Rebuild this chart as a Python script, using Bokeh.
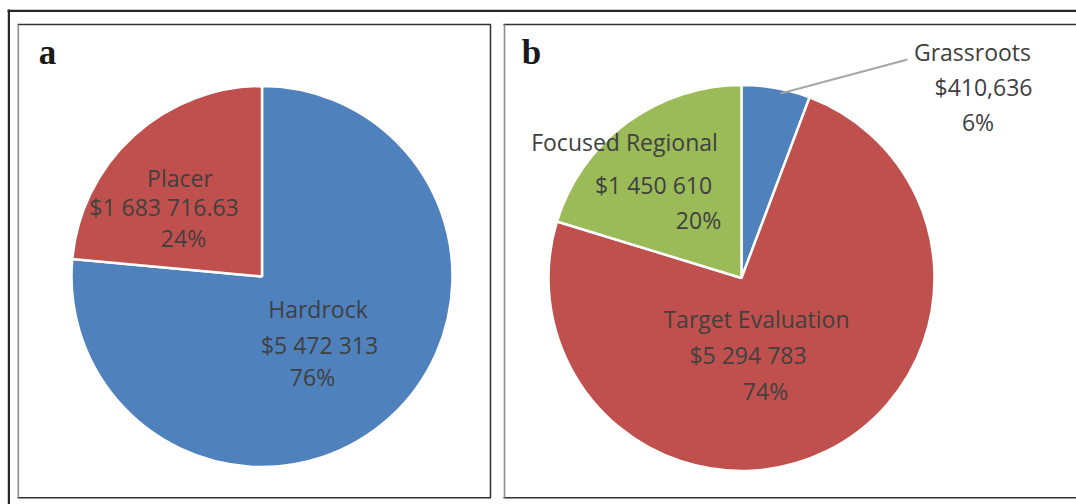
import numpy as np
from bokeh.plotting import figure
from bokeh.models import Range1d
from bokeh.core.properties import value
from bokeh.embed import file_html
from bokeh.resources import INLINE

# ---------------- data ----------------
categories_a = ["Hardrock", "Placer"]
values_a = [5472313, 1683716.63]
money_labels_a = ["$5 472 313", "$1 683 716.63"]
pct_labels_a = ["76%", "24%"]

categories_b = ["Grassroots", "Target Evaluation", "Focused Regional"]
values_b = [410636, 5294783, 1450610]
money_labels_b = ["$410,636", "$5 294 783", "$1 450 610"]
pct_labels_b = ["6%", "74%", "20%"]

colors_a = ["#4F81BD", "#C0504D"]
colors_b = ["#4F81BD", "#C0504D", "#9BBB59"]

# ---------------- layout (page pixel coords) ----------------
W, H = 1076, 504
def X(px):
    return px
def Y(py):
    return H - py

FONT = value("Open Sans")
TXT = "#404040"
FS = 23
TXT_SHIFT = 8.5

p = figure(width=W, height=H, x_range=Range1d(0, W), y_range=Range1d(0, H),
           output_backend="svg", toolbar_location=None, min_border=0,
           x_axis_location=None, y_axis_location=None)
p.grid.visible = False
p.outline_line_color = None
p.background_fill_color = "white"
p.border_fill_color = "white"

dark = "#262626"
# outer frame
p.segment(x0=[X(7), X(8.4)], y0=[Y(10.3), Y(9)], x1=[X(1076), X(8.4)], y1=[Y(10.3), Y(504)],
          line_color=dark, line_width=2.2)
# panel a
p.segment(x0=[X(17), X(490)], y0=[Y(24), Y(24)], x1=[X(490.5), X(490)], y1=[Y(24), Y(497.3)],
          line_color="#333333", line_width=1.5)
p.segment(x0=[X(17)], y0=[Y(497.3)], x1=[X(490.5)], y1=[Y(497.3)], line_color="#333333", line_width=1.5)
p.segment(x0=[X(17.8)], y0=[Y(24)], x1=[X(17.8)], y1=[Y(497.3)], line_color="#8c8c8c", line_width=1.6)
# panel b
p.segment(x0=[X(503), X(503)], y0=[Y(24), Y(497.3)], x1=[X(1076), X(1076)], y1=[Y(24), Y(497.3)],
          line_color="#333333", line_width=1.5)
p.segment(x0=[X(504)], y0=[Y(24)], x1=[X(504)], y1=[Y(497.3)], line_color="#8c8c8c", line_width=1.6)

# pies
def pie(vals, cx, cy, r, colors):
    v = np.array(vals, dtype=float)
    frac = v / v.sum()
    cum = np.concatenate([[0.0], np.cumsum(frac)])
    start = np.pi / 2 - 2 * np.pi * cum[:-1]
    end = np.pi / 2 - 2 * np.pi * cum[1:]
    p.wedge(x=[X(cx)] * len(v), y=[Y(cy)] * len(v), radius=r,
            start_angle=list(start), end_angle=list(end), direction="clock",
            fill_color=colors, line_color="white", line_width=2.5)

pie(values_a, 261.5, 276, 190.5, colors_a)
pie(values_b, 741, 277.5, 193, colors_b)

# leader line for Grassroots
p.line(x=[X(780), X(907)], y=[Y(93), Y(59)], line_color="#a6a6a6", line_width=2)

# labels
def labels(texts, xs, ys):
    p.text(x=[X(v) for v in xs], y=[Y(v - TXT_SHIFT) for v in ys], text=texts,
           text_font=FONT, text_font_size=f"{FS}px", text_color=TXT,
           text_align="center", text_baseline="alphabetic")

labels([categories_a[0], money_labels_a[0], pct_labels_a[0]], [317.5, 319, 312], [317, 353, 385])
labels([categories_a[1], money_labels_a[1], pct_labels_a[1]], [179.5, 163.5, 183], [186, 215, 246])
labels([categories_b[0], money_labels_b[0], pct_labels_b[0]], [972, 983, 977.5], [60, 95, 130])
labels([categories_b[1], money_labels_b[1], pct_labels_b[1]], [756, 747.5, 765], [327, 363, 399])
labels([categories_b[2], money_labels_b[2], pct_labels_b[2]], [624, 653, 698], [150, 192.5, 228])

# panel letters
p.text(x=[X(47), X(531)], y=[Y(63.5 - 12), Y(63.5 - 12)], text=["a", "b"],
       text_font=value("Liberation Serif"), text_font_style="bold",
       text_font_size="35px", text_color="#1a1a1a",
       text_align="center", text_baseline="alphabetic")

open("out.html", "w").write(file_html(p, INLINE))
